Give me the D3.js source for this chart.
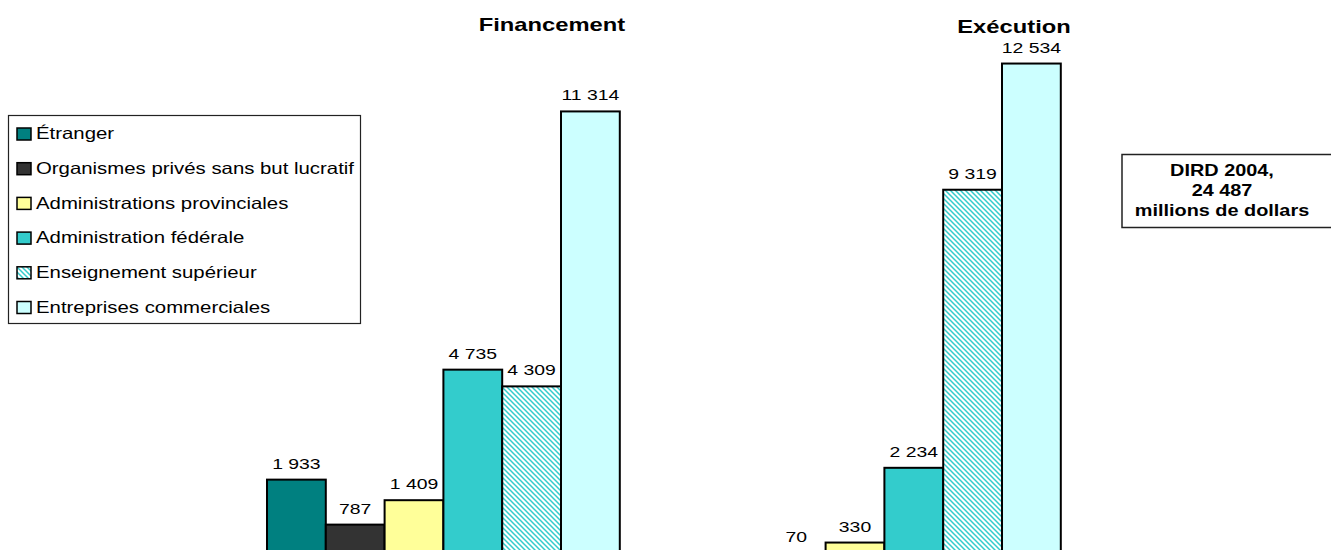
<!DOCTYPE html>
<html>
<head>
<meta charset="utf-8">
<script src="https://cdnjs.cloudflare.com/ajax/libs/d3/7.8.5/d3.min.js"></script>
<style>
  html, body { margin: 0; padding: 0; background: #fff; overflow: hidden; }
  svg { display: block; font-family: "Liberation Sans", Arial, sans-serif; }
</style>
</head>
<body>
<div id="chart"></div>
<script>
// data
const groups = ["Financement", "Exécution"];
const series = [
    "Étranger",
    "Organismes privés sans but lucratif",
    "Administrations provinciales",
    "Administration fédérale",
    "Enseignement supérieur",
    "Entreprises commerciales"
];
const financement = [1933, 787, 1409, 4735, 4309, 11314];
const execution = [null, 70, 330, 2234, 9319, 12534];
const seriesColors = ["#008080", "#333333", "#FFFF99", "#33CCCC", "url(#hatch)", "#CCFFFF"];
const noteLines = ["DIRD 2004,", "24 487", "millions de dollars"];

const W = 1331, H = 550;
const K = 1.25; // the original picture is stretched horizontally

const fmt = v => d3.format(",")(v).replace(/,/g, " ");

const svg = d3.select("#chart").append("svg")
    .attr("width", W)
    .attr("height", H);

// hatch for "Enseignement supérieur"
const pat = svg.append("defs").append("pattern")
    .attr("id", "hatch")
    .attr("patternUnits", "userSpaceOnUse")
    .attr("width", 5)
    .attr("height", 5);
pat.append("rect").attr("width", 5).attr("height", 5).attr("fill", "#fff");
pat.append("path")
    .attr("d", "M0,0 L5,5 M-1,4 L1,6 M4,-1 L6,1")
    .attr("stroke", "#33CCCC")
    .attr("stroke-width", 1.5);

const x0 = d3.scaleBand()
    .domain(groups)
    .range([222.9, 1104.9])
    .paddingInner(0.2)
    .paddingOuter(0.1);

const x1 = d3.scaleBand()
    .domain(series)
    .range([0, x0.bandwidth()])
    .padding(0);

const y = d3.scaleLinear()
    .domain([0, 14000])
    .range([555.5, 6]);

const color = d3.scaleOrdinal().domain(series).range(seriesColors);

const rows = [];
groups.forEach((g, gi) => {
    const vals = gi === 0 ? financement : execution;
    series.forEach((s, si) => {
        if (vals[si] != null) rows.push({ group: g, series: s, value: vals[si] });
    });
});

// stretched text helper
function placeText(sel, fx, fy) {
    sel.attr("x", 0).attr("y", 0)
        .attr("transform", (d, i) => `translate(${fx(d, i)},${fy(d, i)}) scale(${K},1)`);
}

// bars
svg.append("g").selectAll("rect")
    .data(rows)
    .enter().append("rect")
    .attr("x", d => x0(d.group) + x1(d.series))
    .attr("y", d => y(d.value))
    .attr("width", x1.bandwidth())
    .attr("height", d => y(0) - y(d.value))
    .attr("fill", d => color(d.series))
    .attr("stroke", "#000")
    .attr("stroke-width", 2);

// value labels
svg.append("g").selectAll("text")
    .data(rows)
    .enter().append("text")
    .attr("text-anchor", "middle")
    .attr("font-size", 15.5)
    .attr("fill", "#000")
    .text(d => fmt(d.value))
    .call(placeText,
        d => x0(d.group) + x1(d.series) + x1.bandwidth() / 2,
        d => y(d.value) - 11);

// group titles
const titlePos = { "Financement": [552, 31], "Exécution": [1014, 33] };
svg.append("g").selectAll("text")
    .data(groups)
    .enter().append("text")
    .attr("text-anchor", "middle")
    .attr("font-size", 19)
    .attr("font-weight", "bold")
    .text(d => d)
    .call(placeText, d => titlePos[d][0], d => titlePos[d][1]);

// legend
const legend = svg.append("g");
legend.append("rect")
    .attr("x", 8.5).attr("y", 115.5)
    .attr("width", 352).attr("height", 208)
    .attr("fill", "#fff")
    .attr("stroke", "#222")
    .attr("stroke-width", 1.2);

const item = legend.selectAll(".item")
    .data(series)
    .enter().append("g")
    .attr("class", "item");

item.append("rect")
    .attr("x", 17)
    .attr("y", (d, i) => 128 + i * 34.7)
    .attr("width", 14)
    .attr("height", 12)
    .attr("fill", d => color(d))
    .attr("stroke", "#000")
    .attr("stroke-width", 1.5);

item.append("text")
    .attr("font-size", 16.3)
    .text(d => d)
    .call(placeText, () => 36, (d, i) => 139.3 + i * 34.7);

// note box
const note = svg.append("g");
note.append("rect")
    .attr("x", 1122).attr("y", 154.5)
    .attr("width", 230).attr("height", 73)
    .attr("fill", "#fff")
    .attr("stroke", "#222")
    .attr("stroke-width", 1.5);

note.selectAll("text")
    .data(noteLines)
    .enter().append("text")
    .attr("text-anchor", "middle")
    .attr("font-size", 15.9)
    .attr("font-weight", "bold")
    .text(d => d)
    .call(placeText, () => 1222, (d, i) => 176 + i * 20);
</script>
</body>
</html>
